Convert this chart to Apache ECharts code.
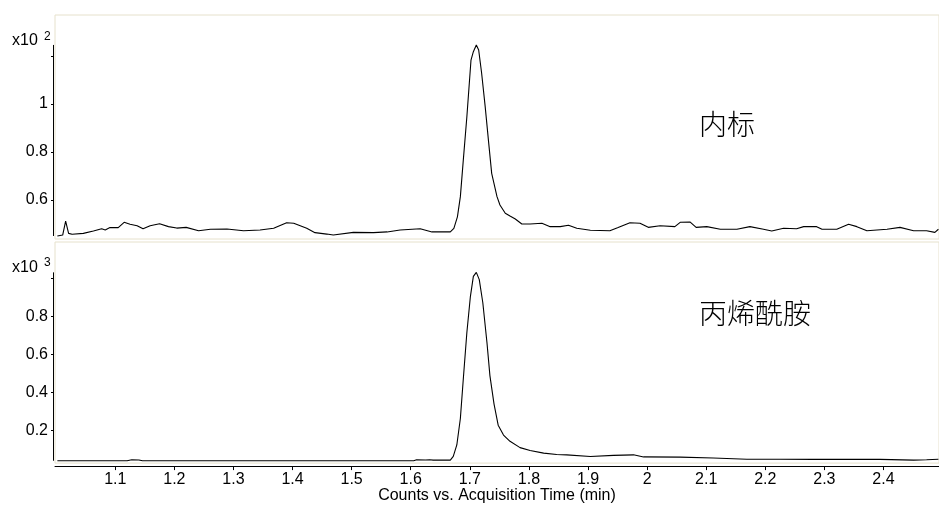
<!DOCTYPE html>
<html>
<head>
<meta charset="utf-8">
<script src="https://cdn.jsdelivr.net/npm/echarts@6/dist/echarts.min.js"></script>
<style>
html,body{margin:0;padding:0;background:#fff;}
#chart{width:939px;height:505px;}
</style>
</head>
<body>
<div id="chart"></div>
<script>
// ---- data ----
const timeTop = [1.002,1.011,1.016,1.021,1.027,1.046,1.063,1.077,1.083,1.091,1.105,1.115,1.125,1.137,1.147,1.159,1.175,1.190,1.204,1.220,1.241,1.261,1.289,1.317,1.345,1.368,1.390,1.402,1.424,1.438,1.458,1.469,1.503,1.537,1.560,1.582,1.616,1.636,1.667,1.673,1.679,1.684,1.689,1.695,1.702,1.706,1.711,1.715,1.720,1.726,1.732,1.737,1.746,1.751,1.760,1.768,1.777,1.788,1.802,1.822,1.836,1.853,1.867,1.881,1.904,1.937,1.951,1.971,1.988,2.002,2.022,2.047,2.056,2.073,2.083,2.101,2.124,2.152,2.174,2.197,2.211,2.231,2.253,2.265,2.287,2.296,2.321,2.341,2.355,2.372,2.389,2.406,2.428,2.451,2.473,2.487,2.493];
const valueTop = [0.450,0.454,0.512,0.461,0.457,0.461,0.471,0.480,0.475,0.485,0.485,0.507,0.499,0.493,0.480,0.493,0.501,0.489,0.483,0.486,0.472,0.478,0.479,0.472,0.475,0.482,0.505,0.503,0.482,0.464,0.458,0.454,0.465,0.464,0.467,0.475,0.480,0.467,0.467,0.482,0.530,0.614,0.767,0.947,1.183,1.218,1.246,1.225,1.128,0.989,0.836,0.711,0.614,0.579,0.545,0.533,0.521,0.500,0.500,0.503,0.489,0.489,0.495,0.482,0.474,0.472,0.485,0.505,0.503,0.486,0.493,0.489,0.507,0.508,0.486,0.489,0.478,0.478,0.489,0.478,0.471,0.482,0.480,0.489,0.489,0.478,0.478,0.499,0.489,0.472,0.475,0.478,0.486,0.472,0.472,0.465,0.478];

const timeBottom = [1.002,1.015,1.018,1.021,1.120,1.128,1.140,1.146,1.198,1.201,1.204,1.582,1.605,1.610,1.625,1.632,1.638,1.667,1.672,1.678,1.684,1.689,1.695,1.701,1.706,1.711,1.716,1.722,1.729,1.734,1.741,1.748,1.757,1.768,1.785,1.802,1.825,1.847,1.864,1.904,1.943,1.977,1.994,2.056,2.112,2.169,2.225,2.281,2.338,2.394,2.451,2.473,2.493];
const valueBottom = [0.042,0.042,0.047,0.042,0.042,0.047,0.046,0.042,0.042,0.047,0.042,0.042,0.042,0.047,0.046,0.047,0.045,0.045,0.065,0.125,0.264,0.473,0.717,0.907,1.012,1.033,0.995,0.873,0.664,0.490,0.340,0.229,0.177,0.144,0.111,0.096,0.082,0.075,0.073,0.0645,0.070,0.073,0.062,0.061,0.056,0.050,0.050,0.049,0.050,0.049,0.045,0.047,0.050];

const xTickValues = [1.1,1.2,1.3,1.4,1.5,1.6,1.7,1.8,1.9,2.0,2.1,2.2,2.3,2.4];
const yTickTop = [0.6,0.8,1.0,1.2];
const yLabelTop = [0.6,0.8,1.0];
const yTickBottom = [0.2,0.4,0.6,0.8,1.0];
const yLabelBottom = [0.2,0.4,0.6,0.8];
const exponentTop = '2';
const exponentBottom = '3';
const labelTop = '内标';
const labelBottom = '丙烯酰胺';
const xTitle = 'Counts vs. Acquisition Time (min)';

// ---- chart ----
const X_MIN = 0.998, X_MAX = 2.494;
const FONT = '"Liberation Sans", Arial, sans-serif';
const CJK = '"Noto Sans CJK SC", sans-serif';
const frameColor = '#E6E1CC';

const zip = (a, b) => a.map((v, i) => [v, b[i]]);

const chart = echarts.init(document.getElementById('chart'), null, {renderer: 'canvas'});

const yAxisCommon = {
  type: 'value',
  offset: 1,
  axisLine: {show: false},
  splitLine: {show: false},
  axisTick: {show: true, length: 3, lineStyle: {color: '#000', width: 1}},
  axisLabel: {color: '#000', fontSize: 16, fontFamily: FONT, margin: 6}
};

chart.setOption({
  animation: false,
  backgroundColor: '#fff',
  grid: [
    {left: 55, top: 15, width: 884, height: 224, show: true, borderColor: frameColor, borderWidth: 1, backgroundColor: 'transparent'},
    {left: 55, top: 242, width: 884, height: 223, show: true, borderColor: frameColor, borderWidth: 1, backgroundColor: 'transparent'}
  ],
  xAxis: [
    {type: 'value', gridIndex: 0, min: X_MIN, max: X_MAX, show: false},
    {type: 'value', gridIndex: 1, min: X_MIN, max: X_MAX, offset: 3,
     axisLine: {show: true, onZero: false, lineStyle: {color: '#000', width: 1}},
     axisTick: {show: true, length: 4, customValues: xTickValues, lineStyle: {color: '#000'}},
     axisLabel: {show: true, customValues: xTickValues, color: '#000', fontSize: 16, fontFamily: FONT, margin: 5},
     splitLine: {show: false},
     name: xTitle, nameLocation: 'middle', nameGap: 9,
     nameTextStyle: {color: '#000', fontSize: 16, fontFamily: FONT, verticalAlign: 'top'}
    }
  ],
  yAxis: [
    Object.assign({}, yAxisCommon, {gridIndex: 0, min: 0.4375, max: 1.3708,
      axisTick: Object.assign({}, yAxisCommon.axisTick, {customValues: yTickTop}),
      axisLabel: Object.assign({}, yAxisCommon.axisLabel, {customValues: yLabelTop})}),
    Object.assign({}, yAxisCommon, {gridIndex: 1, min: 0.0295, max: 1.1928,
      axisTick: Object.assign({}, yAxisCommon.axisTick, {customValues: yTickBottom}),
      axisLabel: Object.assign({}, yAxisCommon.axisLabel, {customValues: yLabelBottom})})
  ],
  series: [
    {type: 'line', xAxisIndex: 0, yAxisIndex: 0, data: zip(timeTop, valueTop), showSymbol: false, symbol: 'none',
     lineStyle: {color: '#000', width: 1.1}, silent: true},
    {type: 'line', xAxisIndex: 1, yAxisIndex: 1, data: zip(timeBottom, valueBottom), showSymbol: false, symbol: 'none',
     lineStyle: {color: '#000', width: 1.1}, silent: true}
  ]
});

// y-axis lines spanning the data range (as in the instrument software)
function axisSegment(idx, vals) {
  const lo = Math.min.apply(null, vals), hi = Math.max.apply(null, vals);
  const a = chart.convertToPixel({xAxisIndex: idx, yAxisIndex: idx}, [X_MIN, hi]);
  const b = chart.convertToPixel({xAxisIndex: idx, yAxisIndex: idx}, [X_MIN, lo]);
  const x = Math.round(a[0]) - 1.5;
  return {type: 'line', shape: {x1: x, y1: a[1], x2: x, y2: b[1]}, style: {stroke: '#000', lineWidth: 1}, silent: true};
}

chart.setOption({
  graphic: [
    axisSegment(0, valueTop),
    axisSegment(1, valueBottom),
    {type: 'text', left: 12, top: 33, style: {text: 'x10', font: '16px ' + FONT, fill: '#000'}},
    {type: 'text', left: 44, top: 31, style: {text: exponentTop, font: '12px ' + FONT, fill: '#000'}},
    {type: 'text', left: 12, top: 260, style: {text: 'x10', font: '16px ' + FONT, fill: '#000'}},
    {type: 'text', left: 44, top: 257, style: {text: exponentBottom, font: '12px ' + FONT, fill: '#000'}},
    {type: 'text', left: 699, top: 110, style: {text: labelTop, font: '300 28px ' + CJK, fill: '#000'}},
    {type: 'text', left: 699, top: 299, style: {text: labelBottom, font: '300 28px ' + CJK, fill: '#000'}}
  ]
});
</script>
</body>
</html>
